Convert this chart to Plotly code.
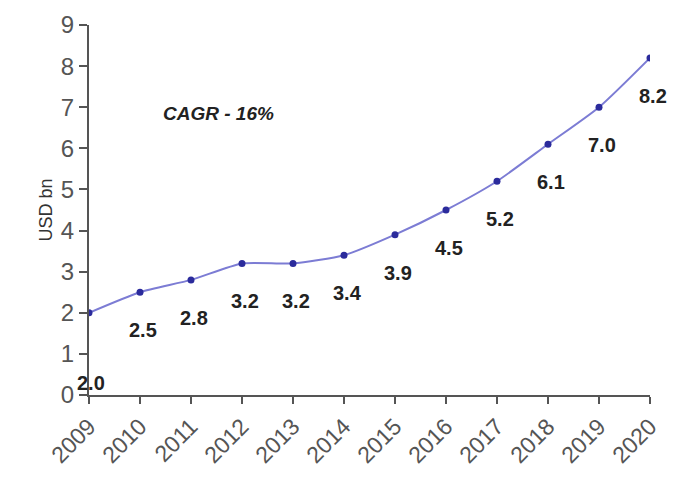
import plotly.graph_objects as go

years = [2009, 2010, 2011, 2012, 2013, 2014, 2015, 2016, 2017, 2018, 2019, 2020]
values = [2.0, 2.5, 2.8, 3.2, 3.2, 3.4, 3.9, 4.5, 5.2, 6.1, 7.0, 8.2]
labels = ["2.0", "2.5", "2.8", "3.2", "3.2", "3.4", "3.9", "4.5", "5.2", "6.1", "7.0", "8.2"]
year_labels = [str(y) for y in years]
y_ticks = list(range(0, 10))
note = "CAGR - 16%"

fig = go.Figure()
fig.add_trace(go.Scatter(
    x=years, y=values, mode="lines+markers",
    line=dict(color="#7c7cd4", width=2, shape="spline", smoothing=0.6),
    marker=dict(color="#2b2b9c", size=7),
    hoverinfo="skip", showlegend=False,
))

for i, (x, v, t) in enumerate(zip(years, values, labels)):
    first = i == 0
    fig.add_annotation(
        x=x, y=v, text="<b>" + t + "</b>", showarrow=False,
        xshift=2 if first else 3, yshift=-70 if first else -38,
        font=dict(family="Liberation Sans, Arial", size=20, color="#222"),
    )

fig.add_annotation(
    xref="paper", yref="paper", x=0.231, y=0.795, xanchor="center",
    text="<b><i>" + note + "</i></b>",
    showarrow=False, font=dict(family="Liberation Sans, Arial", size=19, color="#222"),
)

fig.update_layout(
    width=692, height=487,
    margin=dict(l=89, r=42, t=25, b=92),
    paper_bgcolor="white", plot_bgcolor="white",
    font=dict(family="Liberation Sans, Arial", color="#555"),
)
fig.update_xaxes(
    range=[2009, 2020], tickvals=years, ticktext=year_labels, tickangle=-45,
    showgrid=False, zeroline=False, showline=True, linecolor="#555", linewidth=2,
    ticks="outside", ticklen=7, tickwidth=2, tickcolor="#555",
    tickfont=dict(size=23, color="#555"),
)
fig.update_yaxes(
    range=[0, 9], tickvals=y_ticks, showgrid=False, zeroline=False,
    showline=True, linecolor="#555", linewidth=2,
    ticks="outside", ticklen=8, tickwidth=2, tickcolor="#555",
    tickfont=dict(size=24, color="#555"),
    title=dict(text="USD bn", font=dict(size=18, color="#333"), standoff=4),
)

fig.write_html("out.html")
